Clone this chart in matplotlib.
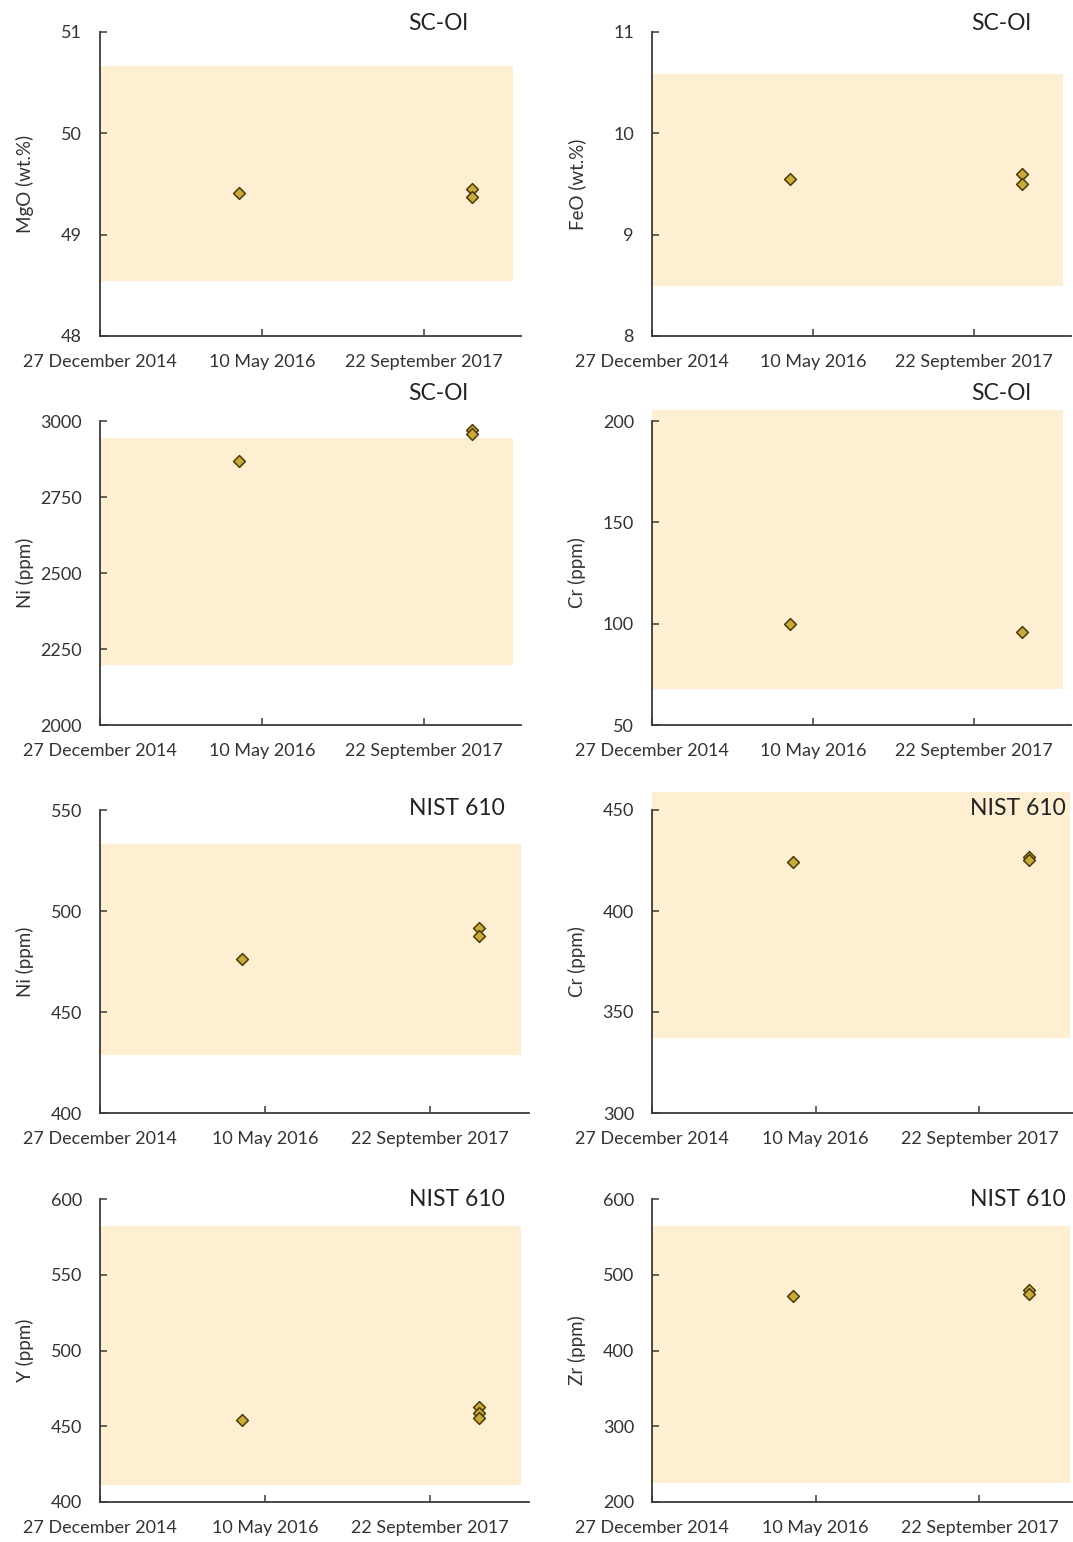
import matplotlib
matplotlib.use("Agg")
import matplotlib.pyplot as plt
import matplotlib.dates as mdates
import datetime as dt

plt.rcParams['font.family'] = ['Lato', 'DejaVu Sans']

# ---------------- data ----------------
tick_dates = [dt.date(2014, 12, 27), dt.date(2016, 5, 10), dt.date(2017, 9, 22)]
tick_labels = ["27 December 2014", "10 May 2016", "22 September 2017"]
x_limits = [dt.date(2014, 12, 27), dt.date(2018, 7, 20)]
band_x = [dt.date(2014, 12, 27), dt.date(2018, 6, 25)]

session1 = dt.date(2016, 3, 1)
session2 = dt.date(2018, 2, 19)

titles = ["SC-Ol", "SC-Ol", "SC-Ol", "SC-Ol", "NIST 610", "NIST 610", "NIST 610", "NIST 610"]
ylabels = ["MgO (wt.%)", "FeO (wt.%)", "Ni (ppm)", "Cr (ppm)",
           "Ni (ppm)", "Cr (ppm)", "Y (ppm)", "Zr (ppm)"]
ylims = [(48, 51), (8, 11), (2000, 3000), (50, 200),
         (400, 550), (300, 450), (400, 600), (200, 600)]
yticks = [[48, 49, 50, 51], [8, 9, 10, 11], [2000, 2250, 2500, 2750, 3000],
          [50, 100, 150, 200], [400, 450, 500, 550], [300, 350, 400, 450],
          [400, 450, 500, 550, 600], [200, 300, 400, 500, 600]]
# accepted-value ranges (shaded bands)
band_low = [48.54, 8.49, 2197, 67.8, 428.7, 337.0, 411.2, 225.0]
band_high = [50.66, 10.59, 2944, 205.4, 533.2, 458.9, 582.2, 564.4]

# measured values: session 1 and session 2 (repeat analyses)
mgo_x = [session1, session2, session2]
mgo_y = [49.41, 49.45, 49.37]
feo_x = [session1, session2, session2]
feo_y = [9.55, 9.60, 9.50]
ni_ol_x = [session1, session2, session2]
ni_ol_y = [2868, 2970, 2957]
cr_ol_x = [session1, session2]
cr_ol_y = [99.8, 96.0]
ni_nist_x = [session1, session2, session2]
ni_nist_y = [476.2, 491.6, 487.6]
cr_nist_x = [session1, session2, session2]
cr_nist_y = [424.3, 426.7, 425.2]
y_nist_x = [session1, session2, session2, session2]
y_nist_y = [454.1, 462.7, 458.7, 455.4]
zr_nist_x = [session1, session2, session2]
zr_nist_y = [472.0, 480.0, 475.0]

series_x = [mgo_x, feo_x, ni_ol_x, cr_ol_x, ni_nist_x, cr_nist_x, y_nist_x, zr_nist_x]
series_y = [mgo_y, feo_y, ni_ol_y, cr_ol_y, ni_nist_y, cr_nist_y, y_nist_y, zr_nist_y]

# ---------------- layout (pixels) ----------------
W, H = 1073, 1542
boxes = [(100, 32, 421, 304), (652, 32, 419, 304),
         (100, 421, 421, 304), (652, 421, 419, 304),
         (100, 810, 429, 303), (652, 810, 426, 303),
         (100, 1199, 429, 303), (652, 1199, 426, 303)]
title_pos = [(0.803, 1.027), (0.833, 1.027), (0.803, 1.092), (0.833, 1.092),
             (0.832, 1.005), (0.86, 1.005), (0.832, 1.0), (0.86, 1.0)]

band_color = "#FEEFD2"
face = "#C9AA3C"
edge = "#4A3A08"
axis_col = "#3A3A3A"
text_col = "#333333"

fig = plt.figure(figsize=(W / 100, H / 100), dpi=100)

for i in range(8):
    x0, y0, w, h = boxes[i]
    ax = fig.add_axes([x0 / W, 1 - (y0 + h) / H, w / W, h / H])
    ax.set_xlim(mdates.date2num(x_limits[0]), mdates.date2num(x_limits[1]))
    ax.set_ylim(*ylims[i])
    ax.fill_between([mdates.date2num(d) for d in band_x], band_low[i], band_high[i],
                    color=band_color, linewidth=0, zorder=0, clip_on=False)
    ax.scatter([mdates.date2num(d) for d in series_x[i]], series_y[i], marker="D",
               s=36, facecolor=face, edgecolor=edge, linewidth=1.1, zorder=3)
    ax.set_xticks([mdates.date2num(d) for d in tick_dates])
    ax.set_xticklabels(tick_labels)
    ax.set_yticks(yticks[i])
    for s in ["top", "right"]:
        ax.spines[s].set_visible(False)
    for s in ["left", "bottom"]:
        ax.spines[s].set_color(axis_col)
        ax.spines[s].set_linewidth(1.3)
    ax.tick_params(axis="both", direction="in", length=5, width=1.1, color=axis_col,
                   labelsize=13, labelcolor=text_col)
    ax.tick_params(axis="y", pad=13)
    ax.tick_params(axis="x", pad=13)
    ax.set_ylabel(ylabels[i], fontsize=13.5, color=text_col)
    ax.yaxis.set_label_coords(-66 / w, 0.5)
    ax.patch.set_alpha(0)
    ax.text(title_pos[i][0], title_pos[i][1], titles[i], transform=ax.transAxes,
            ha="center", va="center", fontsize=16.5, color="#222222")

fig.savefig("out.png", dpi=100)
